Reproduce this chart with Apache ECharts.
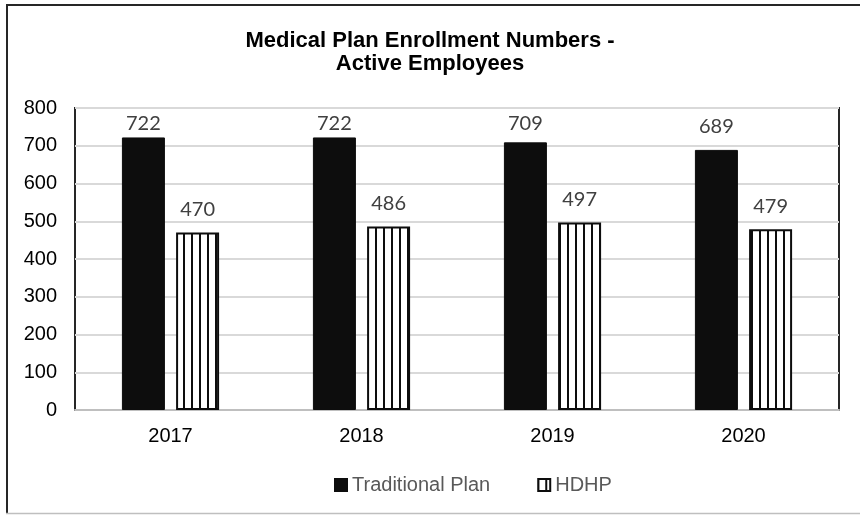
<!DOCTYPE html>
<html><head><meta charset="utf-8">
<script src="https://cdn.jsdelivr.net/npm/echarts@6/dist/echarts.min.js"></script>
<style>html,body{margin:0;padding:0;background:#fff}#c{width:860px;height:515px}</style>
</head><body><div id="c"></div>
<script>
const categories = ['2017', '2018', '2019', '2020'];
const traditionalPlan = [722, 722, 709, 689];
const hdhp = [470, 486, 497, 479];
const seriesNames = ['Traditional Plan', 'HDHP'];

const yMax = 800;
const gridTop = 108, gridBottom = 105, chartH = 515;
const plotH = chartH - gridTop - gridBottom;

const pc = document.createElement('canvas');
pc.width = 8; pc.height = 8;
const pctx = pc.getContext('2d');
pctx.fillStyle = '#ffffff'; pctx.fillRect(0, 0, 8, 8);
pctx.fillStyle = '#0d0d0d'; pctx.fillRect(7, 0, 2, 8); pctx.fillRect(0, 0, 1, 8);

// keep labels inside the plot area like the source chart does
function withLabels(arr) {
  return arr.map(v => {
    const barTop = plotH * (1 - v / yMax);
    const d = Math.max(4, Math.min(13, barTop - 26));
    return {value: v, label: {distance: d}};
  });
}

const chart = echarts.init(document.getElementById('c'), null, {renderer: 'canvas'});
const labelStyle = {show: true, position: 'top', fontFamily: 'Lato', fontSize: 20, color: '#404040'};
chart.setOption({
  animation: false,
  backgroundColor: '#ffffff',
  title: {
    text: 'Medical Plan Enrollment Numbers -\nActive Employees',
    left: 'center', top: 24,
    textStyle: {fontFamily: 'Liberation Sans', fontWeight: 'bold', fontSize: 22, lineHeight: 23, color: '#000'}
  },
  legend: {
    top: 470, left: 329,
    itemWidth: 12, itemHeight: 12, itemGap: 47,
    icon: 'rect',
    textStyle: {fontFamily: 'Liberation Sans', fontSize: 20, color: '#595959'},
    data: seriesNames
  },
  grid: {left: 75, top: gridTop, right: 21, bottom: gridBottom, show: true, borderColor: '#262626', borderWidth: 2},
  xAxis: {
    type: 'category', data: categories,
    axisTick: {show: false},
    axisLine: {lineStyle: {color: '#bfbfbf', width: 2}},
    axisLabel: {margin: 16, fontFamily: 'Liberation Sans', fontSize: 20, color: '#000'}
  },
  yAxis: {
    type: 'value', min: 0, max: yMax, interval: 100,
    axisLabel: {margin: 18, fontFamily: 'Liberation Sans', fontSize: 20, color: '#000'},
    splitLine: {lineStyle: {color: '#d9d9d9', width: 2}},
    axisLine: {show: false}, axisTick: {show: false}
  },
  series: [
    {name: seriesNames[0], type: 'bar', data: withLabels(traditionalPlan), barWidth: 43, barGap: '26%',
     itemStyle: {color: '#0d0d0d', borderColor: '#0d0d0d', borderWidth: 1}, label: labelStyle},
    {name: seriesNames[1], type: 'bar', data: withLabels(hdhp), barWidth: 43,
     itemStyle: {color: {image: pc, repeat: 'repeat'}, borderColor: '#0d0d0d', borderWidth: 2}, label: labelStyle}
  ],
  graphic: [
    {type: 'line', shape: {x1: 6, y1: 5, x2: 860, y2: 5}, style: {stroke: '#262626', lineWidth: 2}, z: 100},
    {type: 'line', shape: {x1: 7, y1: 5, x2: 7, y2: 514}, style: {stroke: '#262626', lineWidth: 2}, z: 100},
    {type: 'line', shape: {x1: 6, y1: 513.5, x2: 860, y2: 513.5}, style: {stroke: '#bfbfbf', lineWidth: 1.5}, z: 100}
  ]
});
</script></body></html>
